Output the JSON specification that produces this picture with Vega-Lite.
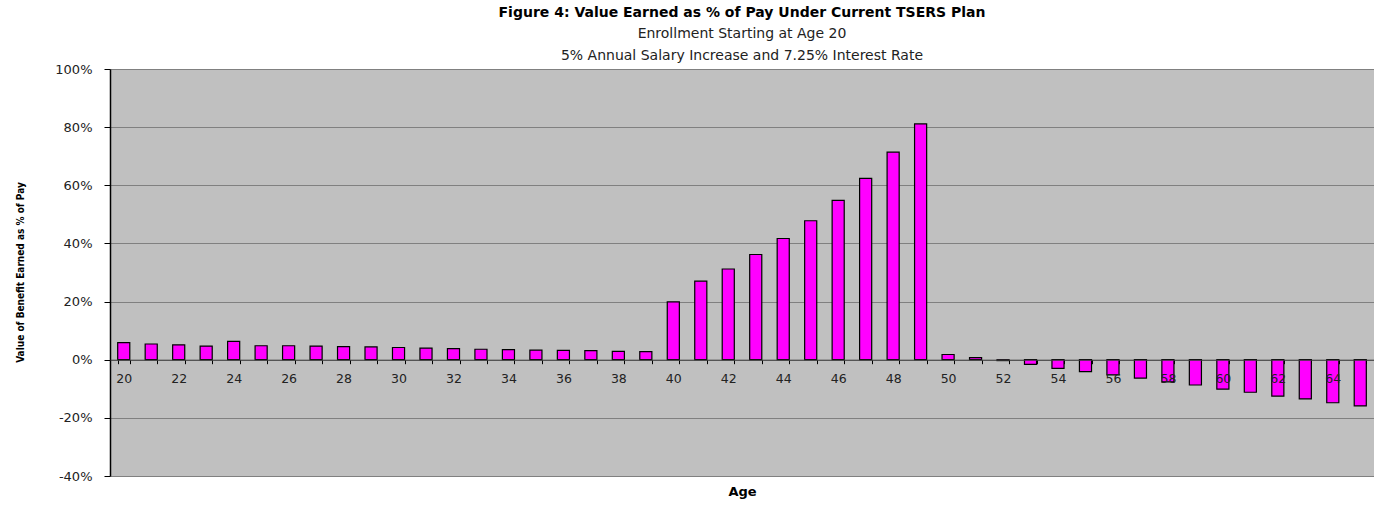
{
  "$schema": "https://vega.github.io/schema/vega-lite/v6.json",
  "autosize": {"type": "none"},
  "padding": {"left": 110, "top": 69, "right": 0, "bottom": 29},
  "width": 1264,
  "height": 407,
  "background": "white",
  "title": {
    "text": "Figure 4: Value Earned as %  of Pay Under Current TSERS Plan",
    "subtitle": ["Enrollment Starting at Age 20", "5% Annual Salary Increase and 7.25% Interest Rate"],
    "anchor": "middle",
    "frame": "group",
    "font": "DejaVu Sans",
    "fontSize": 14,
    "fontWeight": "bold",
    "color": "#000000",
    "subtitleFont": "DejaVu Sans",
    "subtitleFontSize": 14,
    "subtitleColor": "#222222",
    "subtitlePadding": 7,
    "subtitleLineHeight": 22,
    "offset": 0
  },
  "data": {
    "values": [
      {"age": 20, "value": 5.9}, {"age": 21, "value": 5.4}, {"age": 22, "value": 5.1},
      {"age": 23, "value": 4.7}, {"age": 24, "value": 6.3}, {"age": 25, "value": 4.8},
      {"age": 26, "value": 4.8}, {"age": 27, "value": 4.7}, {"age": 28, "value": 4.5},
      {"age": 29, "value": 4.4}, {"age": 30, "value": 4.2}, {"age": 31, "value": 4.0},
      {"age": 32, "value": 3.8}, {"age": 33, "value": 3.6}, {"age": 34, "value": 3.5},
      {"age": 35, "value": 3.3}, {"age": 36, "value": 3.2}, {"age": 37, "value": 3.1},
      {"age": 38, "value": 2.9}, {"age": 39, "value": 2.8}, {"age": 40, "value": 19.9},
      {"age": 41, "value": 27.0}, {"age": 42, "value": 31.2}, {"age": 43, "value": 36.2},
      {"age": 44, "value": 41.7}, {"age": 45, "value": 47.8}, {"age": 46, "value": 54.8},
      {"age": 47, "value": 62.4}, {"age": 48, "value": 71.4}, {"age": 49, "value": 81.1},
      {"age": 50, "value": 1.8}, {"age": 51, "value": 0.7}, {"age": 52, "value": -0.3},
      {"age": 53, "value": -1.6}, {"age": 54, "value": -3.0}, {"age": 55, "value": -4.1},
      {"age": 56, "value": -5.2}, {"age": 57, "value": -6.3}, {"age": 58, "value": -7.6},
      {"age": 59, "value": -8.7}, {"age": 60, "value": -10.1}, {"age": 61, "value": -11.2},
      {"age": 62, "value": -12.5}, {"age": 63, "value": -13.5}, {"age": 64, "value": -14.8},
      {"age": 65, "value": -15.9}
    ]
  },
  "mark": {"type": "bar", "fill": "#FF00FF", "stroke": "#000000", "strokeWidth": 1.2},
  "encoding": {
    "x": {
      "field": "age",
      "type": "ordinal",
      "sort": "ascending",
      "scale": {"paddingInner": 0.56, "paddingOuter": 0.28},
      "axis": {
        "title": "Age",
        "titleFont": "DejaVu Sans",
        "titleFontSize": 13,
        "titleFontWeight": "bold",
        "titleColor": "#000000",
        "titleY": 132,
        "titleBaseline": "middle",
        "offset": -116.3,
        "zindex": 1,
        "labelAngle": 0,
        "labelExpr": "datum.value % 2 == 0 ? datum.label : ''",
        "labelFont": "DejaVu Sans",
        "labelFontSize": 12.5,
        "labelColor": "#222222",
        "labelPadding": 9,
        "tickBand": "extent",
        "tickSize": 4,
        "tickColor": "#000000",
        "domainColor": "#404040",
        "domainWidth": 1,
        "grid": false
      }
    },
    "y": {
      "field": "value",
      "type": "quantitative",
      "scale": {"domain": [-40, 100], "nice": false},
      "axis": {
        "title": "Value of Benefit Earned as % of Pay",
        "titleFont": "DejaVu Sans Condensed",
        "titleFontSize": 10,
        "titleFontWeight": "bold",
        "titleColor": "#000000",
        "titleX": -90,
        "titleY": 203,
        "titleBaseline": "middle",
        "values": [-40, -20, 0, 20, 40, 60, 80, 100],
        "labelExpr": "datum.value + '%'",
        "labelFont": "DejaVu Sans",
        "labelFontSize": 13,
        "labelColor": "#222222",
        "labelPadding": 12,
        "tickSize": 6,
        "tickColor": "#000000",
        "domainColor": "#000000",
        "domainWidth": 1.5,
        "grid": true,
        "gridColor": "#808080",
        "gridWidth": 1
      }
    }
  },
  "config": {
    "view": {"fill": "#C0C0C0", "stroke": null}
  }
}
